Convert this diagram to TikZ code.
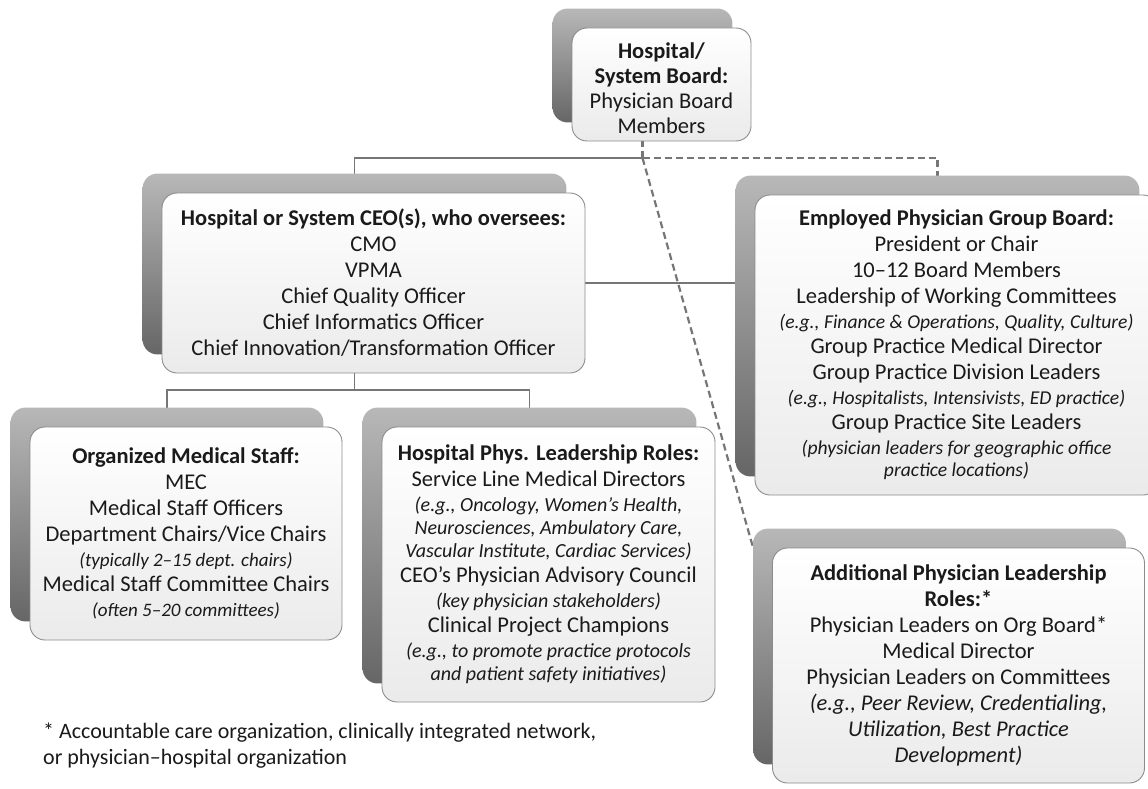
\documentclass[tikz,border=0pt]{standalone}
\usepackage{fontspec}
\setmainfont{Carlito}
\usepackage{tikz}
\usetikzlibrary{backgrounds}

\definecolor{inkgray}{HTML}{1A1A1A}
\definecolor{linegray}{HTML}{767676}
\definecolor{rimgray}{HTML}{8C8C8C}

\newcommand{\hint}[2][20]{{\fontsize{#1}{22}\selectfont\itshape #2}}

\tikzset{
  card/.style={draw=rimgray, line width=0.9pt, rounded corners=15pt,
    top color=white, bottom color=black!8, text=inkgray, align=center,
    font=\fontsize{22.5}{26}\selectfont, inner sep=0pt},
  backdrop/.style={rounded corners=15pt, top color=black!28, bottom color=black!60},
  link/.style={draw=linegray, line width=1.1pt},
  dashlink/.style={draw=linegray, line width=2.2pt, dash pattern=on 7pt off 4pt},
  note/.style={text=inkgray, align=left, font=\fontsize{22}{26}\selectfont, inner sep=0pt}
}

\begin{document}
\begin{tikzpicture}[x=1pt, y=-1pt]
  \useasboundingbox (0,0) rectangle (1148,789);

  \node[card, minimum width=179pt, minimum height=113pt] (board) at (661.5,84.5)
    {\rule{0pt}{24pt}\textbf{Hospital/}\\[-1pt] \textbf{System Board:}\\[-1pt]
     Physician Board\\[-1pt] Members};
  \node[card, minimum width=423pt, minimum height=180pt] (ceo) at (373.5,283)
    {\textbf{Hospital or System CEO(s), who oversees:}\\ CMO\\ VPMA\\
     Chief Quality Officer\\ Chief Informatics Officer\\
     Chief Innovation/Transformation Officer};
  \node[card, minimum width=403pt, minimum height=300pt] (group) at (956.5,345)
    {\textbf{Employed Physician Group Board:}\\ President or Chair\\
     10--12 Board Members\\ Leadership of Working Committees\\[-1pt]
     \hint[19.6]{(e.g., Finance \& Operations, Quality, Culture)}\\[-1pt]
     Group Practice Medical Director\\ Group Practice Division Leaders\\[-1pt]
     \hint[19.6]{(e.g., Hospitalists, Intensivists, ED practice)}\\[-1pt]
     Group Practice Site Leaders\\[-1pt]
     \hint[19.6]{(physician leaders for geographic office}\\[-4pt]
     \hint[19.6]{practice locations)}};
  \node[card, minimum width=372pt, minimum height=235pt] (addl) at (958.5,665.5)
    {\textbf{Additional Physician Leadership}\\ \textbf{Roles:*}\\
     Physician Leaders on Org Board*\\ Medical Director\\
     Physician Leaders on Committees\\ \textit{(e.g., Peer Review, Credentialing,}\\
     \textit{Utilization, Best Practice}\\ \textit{Development)}};
  \node[card, minimum width=312pt, minimum height=213pt] (staff) at (186,533.5)
    {\textbf{Organized Medical Staff:}\\ MEC\\ Medical Staff Officers\\
     Department Chairs/Vice Chairs\\[-1pt] \hint[19]{(typically 2--15 dept. chairs)}\\[-1pt]
     Medical Staff Committee Chairs\\[-1pt] \hint[19]{(often 5--20 committees)}};
  \node[card, minimum width=333pt, minimum height=275pt] (hosp) at (548.5,564.5)
    {\textbf{Hospital Phys. Leadership Roles:}\\ Service Line Medical Directors\\[-1pt]
     \hint{(e.g., Oncology, Women’s Health,}\\[-3pt]
     \hint{Neurosciences, Ambulatory Care,}\\[-3pt]
     \hint{Vascular Institute, Cardiac Services)}\\[-1pt]
     CEO’s Physician Advisory Council\\[-1pt] \hint{(key physician stakeholders)}\\[-1pt]
     Clinical Project Champions\\[-1pt] \hint{(e.g., to promote practice protocols}\\[-3pt]
     \hint{and patient safety initiatives)}};

  \node[note, anchor=north west] (foot) at (43,723)
    {* Accountable care organization, clinically integrated network,\\
     or physician--hospital organization};

  \coordinate (hub) at (642.5,158);
  \coordinate (fork) at (354.5,390);

  \begin{scope}[on background layer]
    % connectors first, the grey backdrops then hide their ends
    \draw[link] ([xshift=-19pt]ceo.center) |- (hub);
    \draw[dashlink] ([xshift=-19pt]board.center) -- (hub);
    \draw[dashlink] (hub) -| ([xshift=-19pt]group.center);
    \draw[dashlink] (hub) -- ([xshift=-19pt]addl.north west);
    \draw[link] (ceo.east) -- (ceo.east -| group.west);
    \draw[link] ([xshift=-19pt]ceo.center) -- (fork);
    \draw[link] ([xshift=-19pt]staff.center) |- (fork) -| ([xshift=-19pt]hosp.center);

    \foreach \n in {board,ceo,group,addl,staff,hosp}
      \shade[backdrop] ([shift={(-19,-19)}]\n.north west) rectangle ([shift={(-19,-19)}]\n.south east);
  \end{scope}
\end{tikzpicture}
\end{document}
